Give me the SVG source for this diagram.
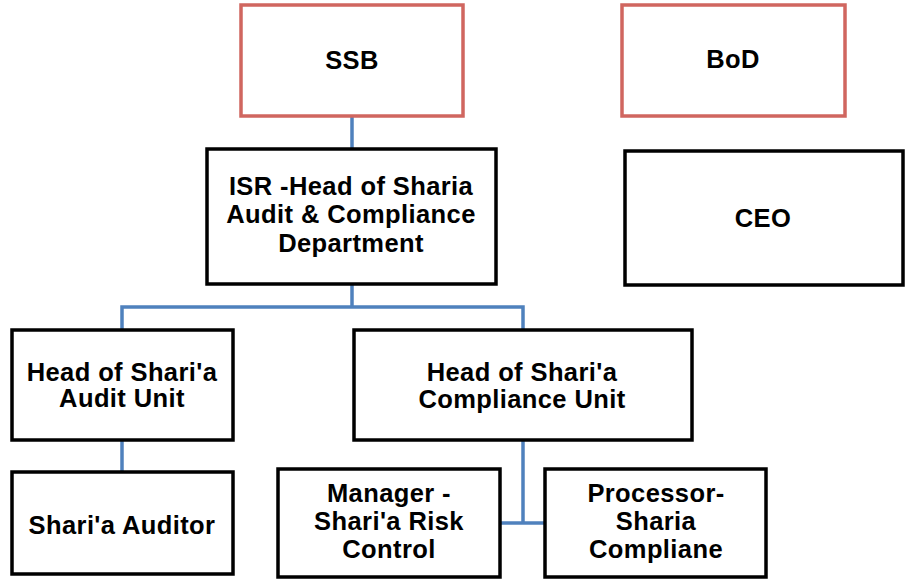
<svg xmlns="http://www.w3.org/2000/svg" width="905" height="584" viewBox="0 0 905 584">
<style>
.box{fill:#fff;stroke:#000;stroke-width:3.5}
.red{fill:#fff;stroke:#D0665F;stroke-width:3.5}
.t{font-family:"Liberation Sans",Arial,sans-serif;font-weight:bold;font-size:25.5px;letter-spacing:0.4px;fill:#000;text-anchor:middle}
.c{fill:none;stroke:#4F81BD;stroke-width:3.5}
</style>
<rect width="905" height="584" fill="#fff"/>
<g id="connectors">
<line class="c" x1="352" y1="116" x2="352" y2="148"/>
<polyline class="c" points="352,284 352,307"/>
<polyline class="c" points="122,329 122,307 523,307 523,329"/>
<line class="c" x1="122" y1="440" x2="122" y2="472"/>
<line class="c" x1="523" y1="440" x2="523" y2="523"/>
<line class="c" x1="500" y1="523" x2="545" y2="523"/>
</g>
<g id="ssb"><rect class="red" x="241" y="5" width="222" height="111"/><text class="t" x="352" y="69">SSB</text></g>
<g id="bod"><rect class="red" x="622" y="5" width="223" height="111"/><text class="t" x="733" y="68">BoD</text></g>
<g id="isr"><rect class="box" x="207" y="149" width="289" height="135"/>
<text class="t" x="351" y="195">ISR -Head of Sharia</text>
<text class="t" x="351" y="223">Audit &amp; Compliance</text>
<text class="t" x="351" y="252">Department</text></g>
<g id="ceo"><rect class="box" x="625" y="151" width="278" height="134"/><text class="t" x="763" y="227">CEO</text></g>
<g id="audit"><rect class="box" x="12" y="330" width="221" height="110"/>
<text class="t" x="122" y="381">Head of Shari'a</text>
<text class="t" x="122" y="407">Audit Unit</text></g>
<g id="compliance"><rect class="box" x="354" y="330" width="338" height="110"/>
<text class="t" x="522" y="381">Head of Shari'a</text>
<text class="t" x="522" y="408">Compliance Unit</text></g>
<g id="auditor"><rect class="box" x="12" y="472" width="221" height="102"/>
<text class="t" x="122" y="534">Shari'a Auditor</text></g>
<g id="manager"><rect class="box" x="278" y="469" width="222" height="108"/>
<text class="t" x="389" y="502">Manager -</text>
<text class="t" x="389" y="530">Shari'a Risk</text>
<text class="t" x="389" y="558">Control</text></g>
<g id="processor"><rect class="box" x="545" y="469" width="221" height="108"/>
<text class="t" x="656" y="502">Processor-</text>
<text class="t" x="656" y="530">Sharia</text>
<text class="t" x="656" y="558">Compliane</text></g>
</svg>
